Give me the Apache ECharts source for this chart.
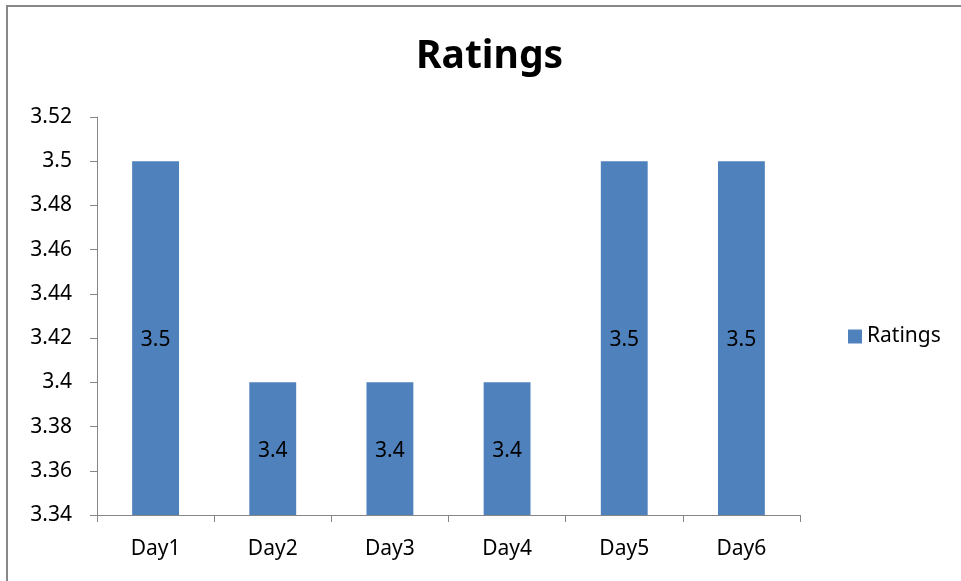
<!DOCTYPE html>
<html>
<head>
<meta charset="utf-8">
<script src="https://cdn.jsdelivr.net/npm/echarts@6/dist/echarts.min.js"></script>
<style>
html,body{margin:0;padding:0;background:#fff;}
#chart{width:961px;height:581px;}
</style>
</head>
<body>
<div id="chart"></div>
<script>
const categories = ['Day1', 'Day2', 'Day3', 'Day4', 'Day5', 'Day6'];
const ratings = [3.5, 3.4, 3.4, 3.4, 3.5, 3.5];
const seriesName = 'Ratings';
const titleText = 'Ratings';
const yMin = 3.34, yMax = 3.52, yStep = 0.02;

const font = '"Noto Sans", sans-serif';
const chart = echarts.init(document.getElementById('chart'));
chart.setOption({
  animation: false,
  backgroundColor: '#fff',
  title: {
    text: titleText, left: 411, top: 32,
    textStyle: { fontFamily: font, fontSize: 39, fontWeight: 'bold', color: '#000' }
  },
  legend: {
    data: [seriesName], orient: 'vertical', left: 843, top: 321, itemWidth: 14, itemHeight: 14,
    icon: 'rect', itemGap: 6,
    textStyle: { fontFamily: font, fontSize: 21, color: '#000' }
  },
  grid: { left: 97, right: 161, top: 117, bottom: 66, containLabel: false },
  xAxis: {
    type: 'category', data: categories,
    axisLine: { lineStyle: { color: '#868686', width: 1 } },
    axisTick: { show: true, length: 7, lineStyle: { color: '#868686' } },
    axisLabel: { fontFamily: font, fontSize: 21, color: '#000', margin: 24 }
  },
  yAxis: {
    type: 'value', min: yMin, max: yMax, interval: yStep,
    splitLine: { show: false },
    axisLine: { show: true, lineStyle: { color: '#868686', width: 1 } },
    axisTick: { show: true, length: 7, lineStyle: { color: '#868686' } },
    axisLabel: { fontFamily: font, fontSize: 21, color: '#000', margin: 25,
      formatter: v => String(+v.toFixed(2)) }
  },
  series: [{
    name: seriesName, type: 'bar', data: ratings, barWidth: '40%',
    itemStyle: { color: '#4F81BD' },
    label: { show: true, position: 'inside', offset: [0, 2], fontFamily: font, fontSize: 21, color: '#000' }
  }],
  graphic: [{
    type: 'rect', shape: { x: 7, y: 6, width: 1000, height: 700 },
    style: { fill: 'none', stroke: '#888', lineWidth: 2 }, silent: true
  }]
});
</script>
</body>
</html>
